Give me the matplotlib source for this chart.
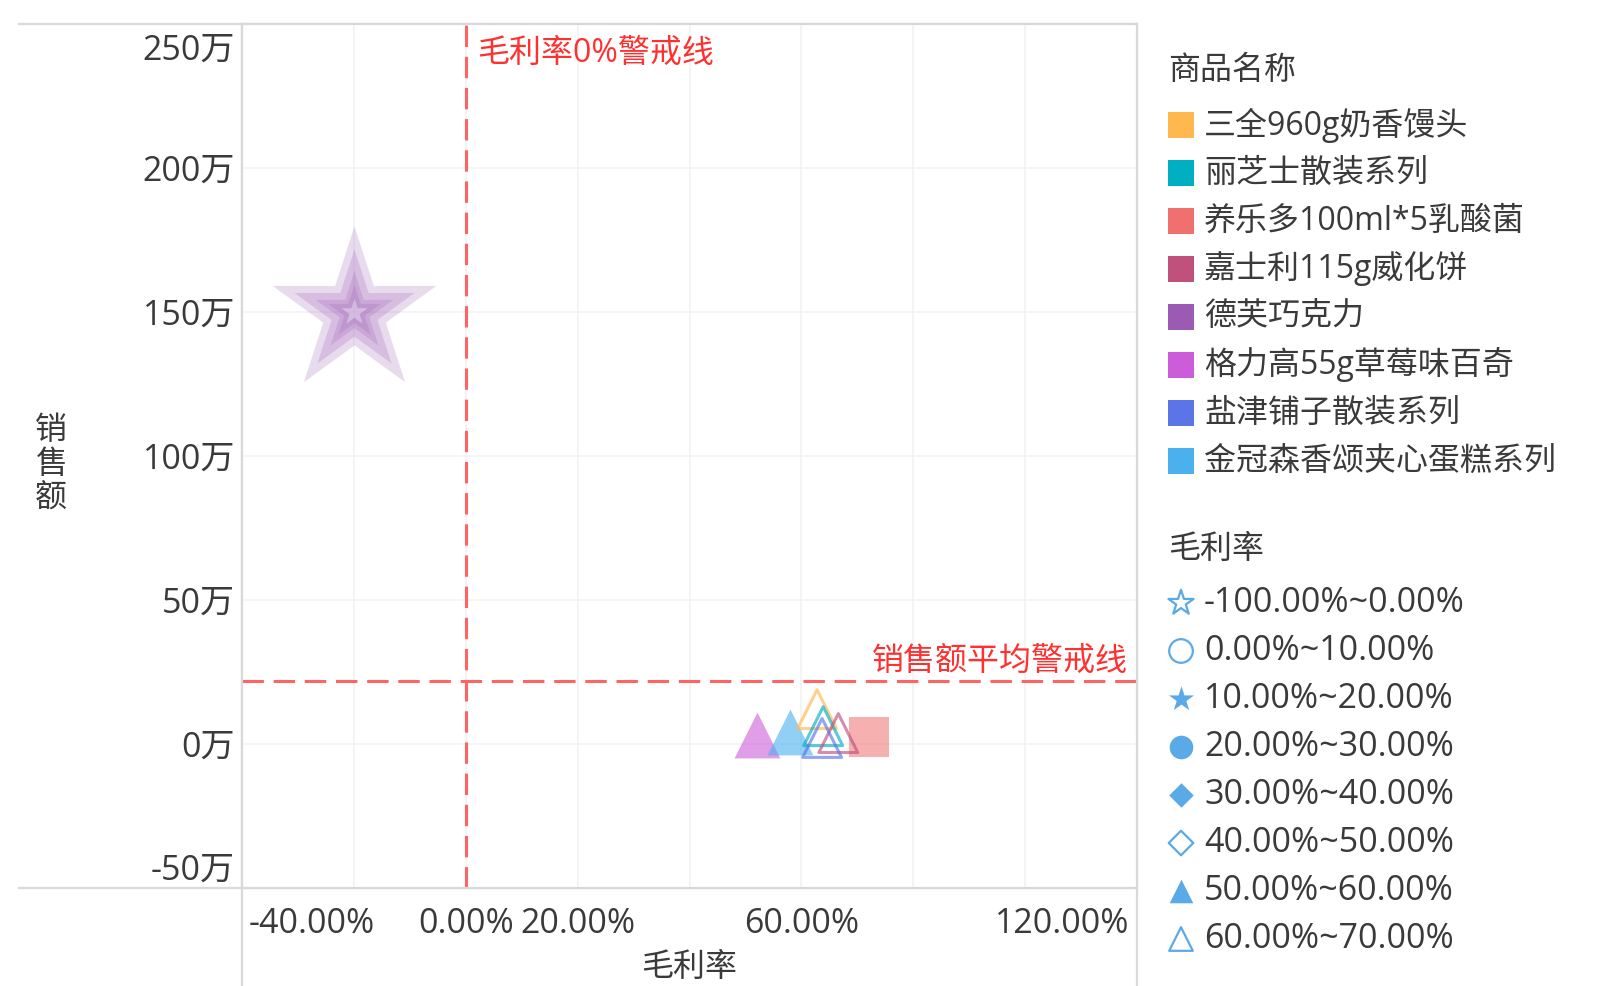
import matplotlib
matplotlib.use('Agg')
import matplotlib.pyplot as plt
from matplotlib.patches import Rectangle
from matplotlib.transforms import ScaledTranslation

plt.rcParams['font.family'] = ['Open Sans', 'Noto Sans CJK SC', 'DejaVu Sans']

# data: 毛利率 in %, 销售额 in 万
products = ['三全960g奶香馒头', '丽芝士散装系列', '养乐多100ml*5乳酸菌', '嘉士利115g威化饼',
            '德芙巧克力', '格力高55g草莓味百奇', '盐津铺子散装系列', '金冠森香颂夹心蛋糕系列']
colors = ['#FFB84D', '#00AFC1', '#F07070', '#C0507C', '#9B5BB5', '#CC5CDA', '#5B74E8', '#4AB0EE']
margin = [62.8, 63.9, 72.1, 66.6, -20.0, 52.0, 63.7, 58.0]
sales = [12.1, 6.2, 2.4, 3.8, 150.0, 3.1, 2.1, 4.3]
sales_avg = 21.8

band_labels = ['-100.00%~0.00%', '0.00%~10.00%', '10.00%~20.00%', '20.00%~30.00%',
               '30.00%~40.00%', '40.00%~50.00%', '50.00%~60.00%', '60.00%~70.00%']
band_edges = [-100, 0, 10, 20, 30, 40, 50, 60, 70]
band_markers = ['*', 'o', '*', 'o', 'D', 'D', '^', '^']
band_filled = [False, False, True, True, True, False, True, False]

x_ticks = [-40, -20, 0, 20, 40, 60, 80, 100, 120]
x_shown = [-40, 0, 20, 60, 120]
y_ticks = [-50, 0, 50, 100, 150, 200, 250]

W, H = 1600, 986
FRAME = '#D9D9D9'
GRID = '#F2F2F2'
TXT = '#3A3A3A'
WARN = '#FF6464'
FS = 23
FS_NUM = 24.5

fig = plt.figure(figsize=(16, 9.86), dpi=100)

# pixel-space layer for the table frame and the legends
lax = fig.add_axes([0, 0, 1, 1])
lax.set_xlim(0, W)
lax.set_ylim(H, 0)
lax.axis('off')
for xs, ys in [([18, 1137], [24, 24]), ([18, 1137], [888, 888]),
               ([242, 242], [24, H]), ([1137, 1137], [24, H])]:
    lax.plot(xs, ys, color=FRAME, lw=1.6, solid_capstyle='butt')

ax = fig.add_axes([242 / W, 1 - 888 / H, 895 / W, 864 / H])
ax.set_zorder(2)
ax.set_xlim(-40, 120)
ax.set_ylim(-50, 250)
for sp in ax.spines.values():
    sp.set_color(FRAME)
    sp.set_linewidth(1.6)
ax.set_xticks(x_ticks)
ax.set_xticklabels(['%.2f%%' % t if t in x_shown else '' for t in x_ticks])
ax.set_yticks(y_ticks)
ax.set_yticklabels(['%d万' % t for t in y_ticks])
ax.tick_params(length=0, labelsize=FS_NUM, labelcolor=TXT)
ax.tick_params(axis='x', pad=14)
ax.tick_params(axis='y', pad=5)
ax.grid(True, color=GRID, lw=1.2)
ax.set_axisbelow(True)

# end labels are pushed inside the plot edges
def nudge(lbl, dx_px, dy_px):
    lbl.set_transform(lbl.get_transform() + ScaledTranslation(dx_px / 100, dy_px / 100, fig.dpi_scale_trans))

xl = ax.get_xticklabels()
xl[0].set_ha('left')
xl[-1].set_ha('right')
nudge(xl[0], 7, 0)
nudge(xl[-1], -8, 0)
yl = ax.get_yticklabels()
yl[0].set_va('bottom')
yl[-1].set_va('top')
nudge(yl[-1], 0, -10)

ax.set_xlabel('毛利率', fontsize=FS, color=TXT, labelpad=7)
ax.set_ylabel('销\n售\n额', fontsize=FS, color=TXT, rotation=0, ha='center', va='center',
              linespacing=1.05)
ax.yaxis.set_label_coords((51 - 242) / 895, (888 - 465) / 864)

# warning lines
dash = (0, (7.0, 3.2))
ax.axvline(0, color=WARN, lw=2.2, ls=dash, zorder=1.5)
ax.axhline(sales_avg, color=WARN, lw=2.2, ls=dash, zorder=1.5)
ax.annotate('毛利率0%警戒线', xy=(0, 250), xytext=(8, -21.5), textcoords='offset points',
            ha='left', va='center', fontsize=FS, color='#FF3030')
ax.annotate('销售额平均警戒线', xy=(120, sales_avg), xytext=(-6.5, 14.5), textcoords='offset points',
            ha='right', va='center', fontsize=FS, color='#FF3030')


def band_of(m):
    for i in range(len(band_edges) - 1):
        if band_edges[i] <= m < band_edges[i + 1]:
            return i
    return None


# points
for name, m, s, c in zip(products, margin, sales, colors):
    b = band_of(m)
    if b == 0:
        # stacked translucent stars
        for ms in [124, 91, 59, 40]:
            ax.scatter([m], [s], marker='*', s=ms ** 2, color=c, alpha=0.22, lw=0, zorder=3)
        ax.scatter([m], [s], marker='*', s=20 ** 2, color='white', alpha=0.35, lw=0, zorder=3)
    elif b is None:
        ax.scatter([m], [s], marker='s', s=29 ** 2, color=c, alpha=0.55, lw=0, zorder=3)
    elif band_filled[b]:
        ax.scatter([m], [s], marker=band_markers[b], s=33 ** 2, color=c, alpha=0.6, lw=0, zorder=3)
    else:
        ax.scatter([m], [s], marker=band_markers[b], s=28 ** 2, facecolors='none',
                   edgecolors=c, alpha=0.65, lw=2.2, zorder=4)

# legend: 商品名称
lax.text(1168, 70, '商品名称', fontsize=FS, color=TXT, ha='left', va='center')
for i, (name, c) in enumerate(zip(products, colors)):
    y = 125 + 48 * i
    lax.add_patch(Rectangle((1168, y - 13), 26, 26, color=c, lw=0))
    lax.text(1204, y, name, fontsize=FS, color=TXT, ha='left', va='center')

# legend: 毛利率
LEG_BLUE = '#5AAAE8'
lax.text(1168, 549, '毛利率', fontsize=FS, color=TXT, ha='left', va='center')
leg_sizes = {'*': 19, 'o': 17, 'D': 12.5, '^': 17}
for i, (lab, mk, fl) in enumerate(zip(band_labels, band_markers, band_filled)):
    y = 603 + 48 * i
    ms = leg_sizes[mk]
    if fl:
        lax.scatter([1181], [y], marker=mk, s=ms ** 2, color=LEG_BLUE, lw=0)
    else:
        lax.scatter([1181], [y], marker=mk, s=ms ** 2, facecolors='none', edgecolors=LEG_BLUE, lw=1.6)
    lax.text(1204, y, lab, fontsize=FS_NUM, color=TXT, ha='left', va='center')

fig.savefig('out.png', dpi=100, facecolor='white')
